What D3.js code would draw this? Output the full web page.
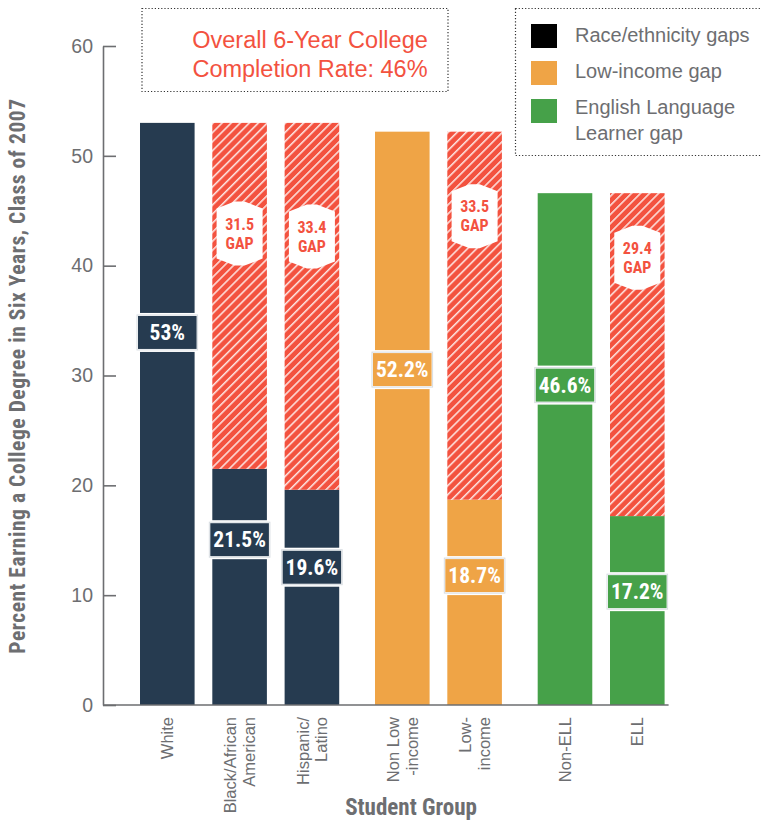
<!DOCTYPE html>
<html>
<head>
<meta charset="utf-8">
<script src="https://cdn.jsdelivr.net/npm/d3@7"></script>
<style>
  html, body { margin: 0; padding: 0; background: #fff; }
  svg { display: block; }
</style>
</head>
<body>
<svg id="chart" width="761" height="821"></svg>
<script>
// Six-year college completion, class of 2007, by student group
const categories = ["White", "Black/African American", "Hispanic/Latino", "Non Low-income", "Low-income", "Non-ELL", "ELL"];
const tickLabels = [["White"], ["Black/African", "American"], ["Hispanic/", "Latino"], ["Non Low", "-income"], ["Low-", "income"], ["Non-ELL"], ["ELL"]];
const groups = ["race", "race", "race", "income", "income", "ell", "ell"];
const rates = [53, 21.5, 19.6, 52.2, 18.7, 46.6, 17.2];
const gaps = [null, 31.5, 33.4, null, 33.5, null, 29.4];
const yTicks = [0, 10, 20, 30, 40, 50, 60];
const legendGroups = ["race", "income", "ell"];
const legendLabels = [["Race/ethnicity gaps"], ["Low-income gap"], ["English Language", "Learner gap"]];
const titleLines = ["Overall 6-Year College", "Completion Rate: 46%"];

// Styling
const barColor = { race: "#263b50", income: "#efa446", ell: "#46a149" };
const legendColor = { race: "#000000", income: "#efa446", ell: "#46a149" };
const gapRed = "#f3523f";
const gray = "#6d6e71";
const sans = "'Liberation Sans', Arial, Helvetica, sans-serif";
const narrow = "'Liberation Sans Narrow', 'Roboto Condensed', 'DejaVu Sans Condensed', 'Arial Narrow', sans-serif";

// Where labels sit along each bar (fraction of the bar / gap height)
const valueLabelAt = [0.64, 0.70, 0.64, 0.585, 0.63, 0.625, 0.60];
const gapBadgeAt = [null, 0.32, 0.31, null, 0.23, null, 0.20];

const svg = d3.select("#chart");
const defs = svg.append("defs");

const hatch = defs.append("pattern")
  .attr("id", "gapHatch")
  .attr("patternUnits", "userSpaceOnUse")
  .attr("width", 6.4).attr("height", 10)
  .attr("patternTransform", "rotate(45)");
hatch.append("rect").attr("width", 6.4).attr("height", 10).attr("fill", gapRed);
hatch.append("line").attr("x1", 0.8).attr("x2", 0.8).attr("y1", 0).attr("y2", 10)
  .attr("stroke", "#ffffff").attr("stroke-width", 1.3);

// Bars are laid out in slots, with a quarter-slot break between groups
const groupIndex = { race: 0, income: 1, ell: 2 };
const slot = categories.map((c, i) => i + 0.25 * groupIndex[groups[i]]);
const x = d3.scaleLinear().domain([0, 6.5]).range([140, 610]);
const barW = (x(1) - x(0)) * 0.755;
const y = d3.scaleLinear().domain([0, 60]).range([705, 46]);

// Y axis (ticks point inward)
const yAxis = d3.axisLeft(y).tickValues(yTicks).tickSizeInner(-13).tickSizeOuter(0).tickPadding(10);
const ya = svg.append("g").attr("transform", "translate(103,0)").call(yAxis);
ya.select(".domain").attr("stroke", gray).attr("stroke-width", 1.6);
ya.selectAll(".tick line").attr("stroke", gray).attr("stroke-width", 1.6);
ya.selectAll(".tick text").attr("fill", gray).attr("font-family", sans).attr("font-size", 19.5);

// Bars
const bars = svg.append("g");
categories.forEach((c, i) => {
  const g = groups[i];
  const x0 = x(slot[i]);
  bars.append("rect")
    .attr("x", x0).attr("width", barW)
    .attr("y", y(rates[i])).attr("height", y(0) - y(rates[i]))
    .attr("fill", barColor[g]);
  if (gaps[i] != null) {
    const top = rates[i] + gaps[i];
    bars.append("rect")
      .attr("x", x0).attr("width", barW)
      .attr("y", y(top)).attr("height", y(rates[i]) - y(top))
      .attr("fill", "url(#gapHatch)");
  }
});

// Baseline
svg.append("line")
  .attr("x1", 103).attr("x2", x(6.5) + barW + 4)
  .attr("y1", y(0)).attr("y2", y(0))
  .attr("stroke", gray).attr("stroke-width", 1.6);

// Value boxes
const labels = svg.append("g");
categories.forEach((c, i) => {
  const cx = x(slot[i]) + barW / 2;
  const cy = y(rates[i] * valueLabelAt[i]);
  const w = barW + 7, h = 36;
  labels.append("rect")
    .attr("x", cx - w / 2).attr("y", cy - h / 2)
    .attr("width", w).attr("height", h)
    .attr("fill", barColor[groups[i]])
    .attr("stroke", "#ffffff").attr("stroke-width", 3);
  labels.append("rect")
    .attr("x", cx - w / 2 + 0.5).attr("y", cy - h / 2 + 0.5)
    .attr("width", w - 1).attr("height", h - 1)
    .attr("fill", "none")
    .attr("stroke", "#d8dde2").attr("stroke-width", 1);
  labels.append("text")
    .attr("x", cx).attr("y", cy + 7.5)
    .attr("text-anchor", "middle")
    .attr("fill", "#ffffff")
    .attr("font-family", narrow).attr("font-weight", "bold").attr("font-size", 21.5)
    .text(d3.format("")(rates[i]) + "%");
});

// Gap badges
categories.forEach((c, i) => {
  if (gaps[i] == null) return;
  const cx = x(slot[i]) + barW / 2;
  const top = rates[i] + gaps[i];
  const cy = y(top - gaps[i] * gapBadgeAt[i]);
  const hw = 23, hh = 25, tip = 7;
  const pts = [
    [cx - hw, cy - hh], [cx - 5, cy - hh - tip], [cx + 5, cy - hh - tip], [cx + hw, cy - hh],
    [cx + hw, cy + hh], [cx + 5, cy + hh + tip], [cx - 5, cy + hh + tip], [cx - hw, cy + hh]
  ];
  labels.append("polygon")
    .attr("points", pts.map(p => p.join(",")).join(" "))
    .attr("fill", "#ffffff");
  labels.append("text")
    .attr("x", cx).attr("y", cy - 4)
    .attr("text-anchor", "middle").attr("fill", gapRed)
    .attr("font-family", narrow).attr("font-weight", "bold").attr("font-size", 16)
    .text(gaps[i]);
  labels.append("text")
    .attr("x", cx).attr("y", cy + 15)
    .attr("text-anchor", "middle").attr("fill", gapRed)
    .attr("font-family", narrow).attr("font-weight", "bold").attr("font-size", 16)
    .text("GAP");
});

// Category labels, rotated
const xl = svg.append("g");
categories.forEach((c, i) => {
  const cx = x(slot[i]) + barW / 2;
  const lines = tickLabels[i];
  const t = xl.append("text")
    .attr("transform", `translate(${cx},717) rotate(-90)`)
    .attr("text-anchor", "end")
    .attr("fill", gray)
    .attr("font-family", sans).attr("font-size", 16.5);
  lines.forEach((ln, k) => {
    t.append("tspan").attr("x", 0)
      .attr("y", 6 + (k - (lines.length - 1) / 2) * 18.5)
      .text(ln);
  });
});

// Axis titles
svg.append("text")
  .attr("transform", "translate(25,376) rotate(-90)")
  .attr("text-anchor", "middle")
  .attr("fill", gray)
  .attr("font-family", narrow).attr("font-weight", "bold").attr("font-size", 21.5)
  .attr("letter-spacing", 0.55)
  .text("Percent Earning a College Degree in Six Years, Class of 2007");
svg.append("text")
  .attr("x", 411).attr("y", 815)
  .attr("text-anchor", "middle")
  .attr("fill", gray)
  .attr("font-family", narrow).attr("font-weight", "bold").attr("font-size", 23)
  .text("Student Group");

// Overall rate box
svg.append("rect")
  .attr("x", 142).attr("y", 8.5).attr("width", 306).attr("height", 83)
  .attr("fill", "none").attr("stroke", "#333").attr("stroke-width", 1.2)
  .attr("stroke-dasharray", "1.2,2");
titleLines.forEach((ln, k) => {
  svg.append("text")
    .attr("x", 310).attr("y", 48 + k * 29)
    .attr("text-anchor", "middle")
    .attr("fill", gapRed)
    .attr("font-family", sans).attr("font-size", 23.5)
    .text(ln);
});

// Legend
svg.append("rect")
  .attr("x", 515.5).attr("y", 8.5).attr("width", 260).attr("height", 147)
  .attr("fill", "none").attr("stroke", "#333").attr("stroke-width", 1.2)
  .attr("stroke-dasharray", "1.2,2");
const legendY = [24, 61, 99];
const legendTextY = [42, 78, 114];
legendGroups.forEach((g, k) => {
  svg.append("rect")
    .attr("x", 531).attr("y", legendY[k]).attr("width", 26).attr("height", 24)
    .attr("fill", legendColor[g]);
  const t = svg.append("text")
    .attr("fill", gray).attr("font-family", sans).attr("font-size", 20);
  legendLabels[k].forEach((ln, j) => {
    t.append("tspan").attr("x", 575).attr("y", legendTextY[k] + j * 26).text(ln);
  });
});
</script>
</body>
</html>
